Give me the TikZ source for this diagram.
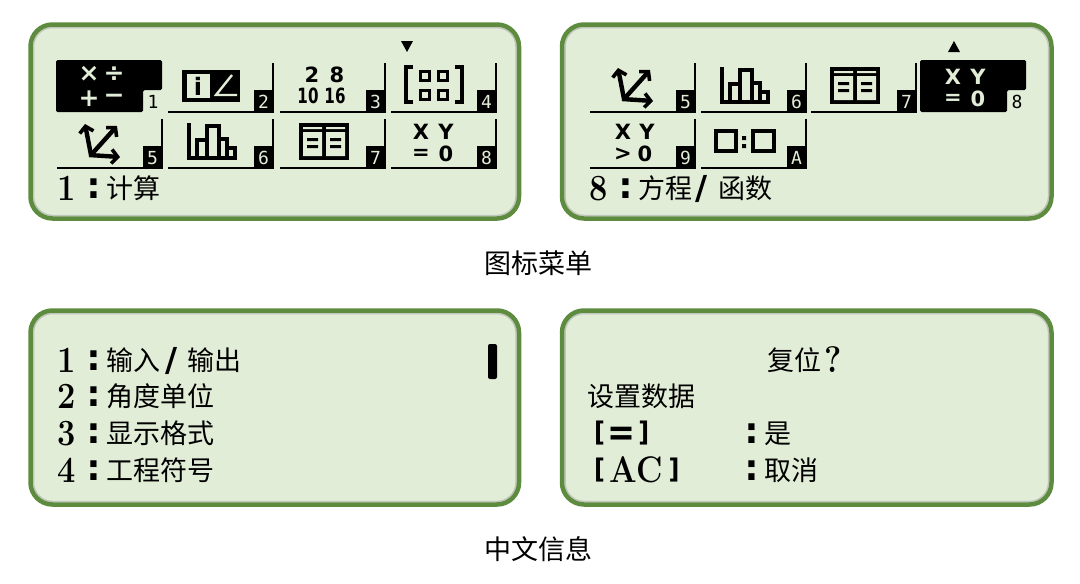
\documentclass[tikz,border=0pt]{standalone}
\usepackage{fontspec}
\newfontfamily\cjk{Noto Sans CJK SC}
\newfontfamily\icofont{DejaVu Sans}
\newfontfamily\numfont{DejaVu Sans Mono}
\usetikzlibrary{arrows.meta}
\newcommand{\fsz}[1]{\fontsize{#1}{#1}\selectfont}
\newcommand{\lbrk}{\raisebox{3.5pt}{\fsz{27}\icofont\bfseries[}}
\newcommand{\rbrk}{\raisebox{3.5pt}{\fsz{27}\icofont\bfseries]}}
\definecolor{lcdbg}{HTML}{E2EDD8}
\definecolor{lcdrim}{HTML}{5E8C3E}
\tikzset{
  >={Straight Barb[length=6pt,width=14pt,line width=3.6pt]},
  every node/.style={inner sep=0pt},
  panel/.style={draw=lcdrim,fill=lcdbg,line width=4.5pt,rounded corners=22pt},
  panelshade/.style={draw=black!45,opacity=.4,line width=1.5pt,rounded corners=19pt},
  cellline/.style={line width=1.8pt,line cap=square},
  digit/.style={anchor=base west,xscale=.88,font=\fsz{37}\bfseries},
  dots/.style={anchor=base,font=\fsz{38}\numfont\bfseries},
  slash/.style={anchor=base,font=\fsz{33}\icofont\bfseries},
  hanzi/.style={anchor=base west,font=\fsz{27}\cjk},
  icotext/.style={font=\fsz{21}\icofont\bfseries},
  icosign/.style={font=\fsz{25}\icofont\bfseries},
  numtext/.style={font=\fsz{18}\numfont},
  pics/cellbox/.style={code={
    \draw[cellline] (-105,0)--(0,0)--(0,-49);
    \fill (-19,-22) rectangle (0,0);
    \node[numtext,text=lcdbg] (num) at (-9.5,-10) {#1};
  }},
  pics/cellhot/.style={code={
    \fill[rounded corners=1.5pt] (-106,-52)--(0,-52)--(0,-22)--(-19,-22)--(-19,0)--(-106,0)--cycle;
    \node[numtext] (num) at (-9,-10) {#1};
  }},
  pics/calcicon/.style={code={
    \node[icosign,text=lcdbg] (a) at (-73,-38) {×};
    \node[icosign,text=lcdbg] (b) at (-48,-38) {÷};
    \node[icosign,text=lcdbg] (c) at (-73,-13) {+};
    \node[icosign,text=lcdbg] (d) at (-48,-13) {−};
  }},
  pics/angleicon/.style={code={
    \fill (-91,-42) rectangle (-33,-10);
    \fill[lcdbg] (-86,-38) rectangle (-63,-14);
    \node[font=\fsz{24}\icofont\bfseries] (a) at (-75,-26) {i};
    \draw[lcdbg,line width=2.4pt] (-41,-37)--(-57,-17)--(-36,-17);
  }},
  pics/baseicon/.style={code={
    \node[icotext] (a) at (-73,-37) {2};
    \node[icotext] (b) at (-48,-37) {8};
    \node[icotext,xscale=.72] (c) at (-77,-16) {10};
    \node[icotext,xscale=.72] (d) at (-50,-16) {16};
  }},
  pics/matrixicon/.style={code={
    \draw[line width=3.2pt] (-83,-45)--(-90,-45)--(-90,-10)--(-83,-10);
    \draw[line width=3.2pt] (-41,-45)--(-34,-45)--(-34,-10)--(-41,-10);
    \foreach \qx in {-71,-53}
      \foreach \qy in {-36,-17}
        \draw[line width=3pt] (\qx-4.5,\qy-4.5) rectangle (\qx+4.5,\qy+4.5);
  }},
  pics/arrowicon/.style={code={
    \draw[line width=4.4pt,->] (-71,-13)--(-77,-44);
    \draw[line width=4.4pt,->] (-71,-13)--(-45,-42);
    \draw[line width=4.4pt,->] (-73,-13)--(-42,-11);
  }},
  pics/baricon/.style={code={
    \draw[line width=3.6pt] (-84,-45)--(-84,-10)--(-38,-10)--(-38,-20)--(-46,-20)--(-46,-29)--(-54,-29)--(-54,-42)--(-66,-42)--(-66,-28)--(-76,-28)--(-76,-10);
    \draw[line width=3.6pt] (-66,-28)--(-66,-10) (-54,-29)--(-54,-10) (-46,-20)--(-46,-10);
  }},
  pics/tableicon/.style={code={
    \fill (-86,-45) rectangle (-36,-8);
    \fill[lcdbg] (-82,-41) rectangle (-63,-39) (-59,-41) rectangle (-40,-39);
    \fill[lcdbg] (-82,-36) rectangle (-63,-12) (-59,-36) rectangle (-40,-12);
    \fill (-78,-30) rectangle (-67,-27) (-55,-30) rectangle (-44,-27);
    \fill (-78,-23) rectangle (-67,-20) (-55,-23) rectangle (-44,-20);
  }},
  pics/xyicon/.style={code={
    \node[icotext] (a) at (-75,-36) {X};
    \node[icotext] (b) at (-50,-36) {Y};
    \node[icotext] (c) at (-75,-14) {=};
    \node[icotext] (d) at (-50,-14) {0};
  }},
  pics/xyhoticon/.style={code={
    \node[icotext,text=lcdbg] (a) at (-73,-35) {X};
    \node[icotext,text=lcdbg] (b) at (-48,-35) {Y};
    \node[icotext,text=lcdbg] (c) at (-73,-13) {=};
    \node[icotext,text=lcdbg] (d) at (-48,-13) {0};
  }},
  pics/xgticon/.style={code={
    \node[icotext] (a) at (-72,-36) {X};
    \node[icotext] (b) at (-48,-36) {Y};
    \node[icotext] (c) at (-72,-14) {>};
    \node[icotext] (d) at (-50,-14) {0};
  }},
  pics/ratioicon/.style={code={
    \draw[line width=3.4pt] (-90,-37) rectangle (-70,-17);
    \draw[line width=3.4pt] (-53,-37) rectangle (-32,-17);
    \fill (-64,-32) rectangle (-60,-28) (-64,-24) rectangle (-60,-20);
  }},
}
\begin{document}
\begin{tikzpicture}[x=1pt,y=-1pt]
  \useasboundingbox (0,0) rectangle (1080,584);
  \foreach \px/\qx in {30.5/519,562/1051.5}
    \foreach \py/\qy in {24.5/218.5,310.5/504.5}{
      \draw[panel] (\px,\py) rectangle (\qx,\qy);
      \draw[panelshade] (\px+3,\py+3) rectangle (\qx-3,\qy-3);
    }

  \pic (ca) at (162,112) {cellhot=1};
  \pic (ia) at (162,112) {calcicon};
  \pic (cb) at (273,112) {cellbox=2};
  \pic (ib) at (273,112) {angleicon};
  \pic (cc) at (385,112) {cellbox=3};
  \pic (ic) at (385,112) {baseicon};
  \pic (cd) at (496,112) {cellbox=4};
  \pic (id) at (496,112) {matrixicon};
  \pic (ce) at (162,168) {cellbox=5};
  \pic (ie) at (162,168) {arrowicon};
  \pic (cf) at (273,168) {cellbox=6};
  \pic (if) at (273,168) {baricon};
  \pic (cg) at (385,168) {cellbox=7};
  \pic (ig) at (385,168) {tableicon};
  \pic (ch) at (496,168) {cellbox=8};
  \pic (ih) at (496,168) {xyicon};
  \fill (401,41)--(413,41)--(407,52)--cycle;

  \pic (rca) at (695,112) {cellbox=5};
  \pic (ria) at (695,112) {arrowicon};
  \pic (rcb) at (806,112) {cellbox=6};
  \pic (rib) at (806,112) {baricon};
  \pic (rcc) at (916,112) {cellbox=7};
  \pic (ric) at (916,112) {tableicon};
  \pic (rcd) at (1026,112) {cellhot=8};
  \pic (rid) at (1026,112) {xyhoticon};
  \pic (rce) at (695,168) {cellbox=9};
  \pic (rie) at (695,168) {xgticon};
  \pic (rcf) at (806,168) {cellbox=A};
  \pic (rif) at (806,168) {ratioicon};
  \fill (948,52)--(960,52)--(954,41)--cycle;

  \node[digit] (ta) at (57,200) {1};
  \node[dots] (tb) at (94,198) {:};
  \node[hanzi] (tc) at (106,198) {计算};
  \node[digit] (ra) at (589,200) {8};
  \node[dots] (rb) at (626,198) {:};
  \node[hanzi] (rc) at (638,198) {方程};
  \node[slash] (rd) at (702,199) {/};
  \node[hanzi] (re) at (718,198) {函数};

  \node[digit] (la) at (57,372) {1};
  \node[dots] (lb) at (94,370) {:};
  \node[hanzi] (lc) at (106,370) {输入};
  \node[slash] (ld) at (172,371) {/};
  \node[hanzi] (le) at (187,370) {输出};
  \node[digit] (lf) at (57,408) {2};
  \node[dots] (lg) at (94,406) {:};
  \node[hanzi] (lh) at (106,406) {角度单位};
  \node[digit] (li) at (57,445) {3};
  \node[dots] (lj) at (94,443) {:};
  \node[hanzi] (lk) at (106,443) {显示格式};
  \node[digit] (ll) at (57,482) {4};
  \node[dots] (lm) at (94,480) {:};
  \node[hanzi] (ln) at (106,480) {工程符号};
  \fill[rounded corners=2pt] (488,344) rectangle (497,379);

  \node[hanzi] (qa) at (767,370) {复位};
  \node[digit] (qb) at (824,372) {?};
  \node[hanzi] (qc) at (587,406) {设置数据};
  \node[digit] (qd) at (594,445) {\lbrk\hspace{3pt}{\fsz{38}\icofont\bfseries =}\hspace{3pt}\rbrk};
  \node[dots] (qe) at (752,443) {:};
  \node[hanzi] (qf) at (764,443) {是};
  \node[digit] (qg) at (594,482) {\lbrk\hspace{5pt}AC\hspace{7pt}\rbrk};
  \node[dots] (qh) at (752,480) {:};
  \node[hanzi] (qi) at (764,480) {取消};

  \node[font=\fsz{27}\cjk] (capa) at (538.5,263) {图标菜单};
  \node[font=\fsz{27}\cjk] (capb) at (538.5,549) {中文信息};
\end{tikzpicture}
\end{document}
